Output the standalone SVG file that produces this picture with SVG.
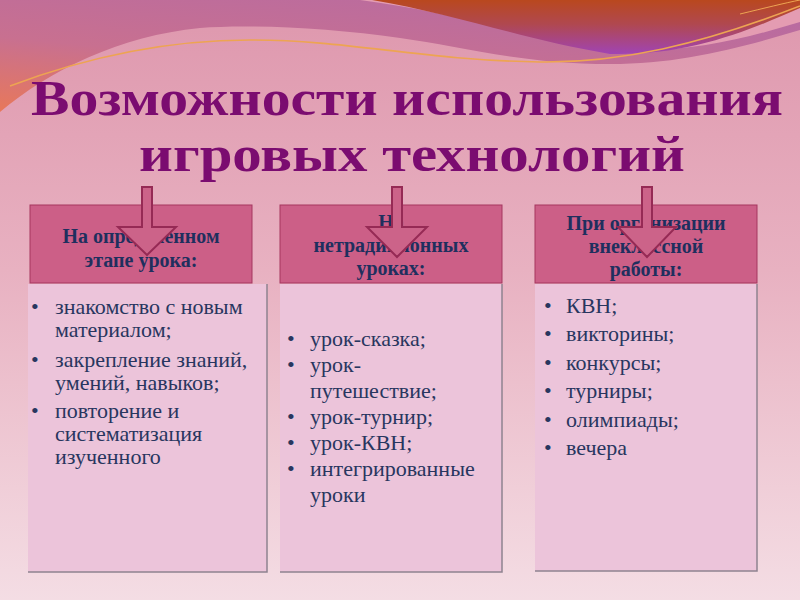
<svg xmlns="http://www.w3.org/2000/svg" width="800" height="600" viewBox="0 0 800 600">
<defs>
<linearGradient id="bg" x1="0" y1="0" x2="0" y2="1">
<stop offset="0" stop-color="#de97ad"/>
<stop offset="0.45" stop-color="#e8b1c1"/>
<stop offset="1" stop-color="#f4dde4"/>
</linearGradient>
<linearGradient id="mauve" x1="0.7" y1="0" x2="0" y2="1">
<stop offset="0" stop-color="#b96ba0"/>
<stop offset="0.55" stop-color="#c87090"/>
<stop offset="1" stop-color="#e8785a"/>
</linearGradient>
<linearGradient id="sunset" x1="0" y1="0" x2="0" y2="1">
<stop offset="0" stop-color="#b9481e"/>
<stop offset="0.45" stop-color="#b04850"/>
<stop offset="1" stop-color="#a044b4"/>
</linearGradient>
<style>
.title{font-family:"Liberation Serif",serif;font-weight:bold;font-size:50px;fill:#7b0c70}
.hdr{fill:#cc5f87;stroke:#a5375f;stroke-width:1}
.hdrtxt{font-family:"Liberation Serif",serif;font-weight:bold;font-size:20px;fill:#1f2f5e;text-anchor:middle}
.body{fill:#ecc4da;stroke:none}
.shadow{fill:none;stroke:#8f8290;stroke-width:1.5}
.item{font-family:"Liberation Serif",serif;font-size:22px;fill:#28365f}
.arrow{fill:#cc6389;stroke:#962a55;stroke-width:2;stroke-linejoin:miter}
</style>
</defs>

<g id="background">
<rect x="0" y="0" width="800" height="600" fill="url(#bg)"/>
<path d="M0,0 H800 V30 C740,48 680,64 610,64 C520,64 460,46 400,38 C330,28 250,24 200,28 C120,36 50,70 0,112 Z" fill="url(#mauve)"/>
<path d="M360,0 C440,10 510,32 600,48 C680,56 740,40 800,22 V0 Z" fill="#e49cb2"/>
<path d="M372,0 C455,14 525,40 610,54 C690,56 750,30 800,8 V0 Z" fill="url(#sunset)"/>
<path d="M10,86 C100,52 180,40 250,40 C350,40 420,60 540,62 C620,63 700,45 800,6" fill="none" stroke="#eda452" stroke-width="1.6"/>
<path d="M740,14 C765,8 785,3 800,0" fill="none" stroke="#eda452" stroke-width="1"/>
</g>

<g id="title">
<text class="title" x="407" y="115" text-anchor="middle" textLength="752" lengthAdjust="spacingAndGlyphs">Возможности использования</text>
<text class="title" x="412" y="171" text-anchor="middle" textLength="546" lengthAdjust="spacingAndGlyphs">игровых технологий</text>
</g>

<g id="node-lesson-stage">
<rect class="body" x="28" y="284" width="239" height="288"/>
<path class="shadow" d="M267,284 V572 H28"/>
<rect class="hdr" x="30" y="205" width="222" height="78"/>
<text class="hdrtxt" x="141" y="243">На определенном</text>
<text class="hdrtxt" x="141" y="267">этапе урока:</text>
<g class="item">
<text x="31" y="314">•</text><text x="55" y="314">знакомство с новым</text>
<text x="55" y="337">материалом;</text>
<text x="31" y="367">•</text><text x="55" y="367">закрепление знаний,</text>
<text x="55" y="390">умений, навыков;</text>
<text x="31" y="418">•</text><text x="55" y="418">повторение и</text>
<text x="55" y="441">систематизация</text>
<text x="55" y="464">изученного</text>
</g>
</g>

<g id="node-nontraditional">
<rect class="body" x="280" y="284" width="222" height="288"/>
<path class="shadow" d="M502,284 V572 H280"/>
<rect class="hdr" x="280" y="205" width="222" height="78"/>
<text class="hdrtxt" x="391" y="229">На</text>
<text class="hdrtxt" x="391" y="252">нетрадиционных</text>
<text class="hdrtxt" x="391" y="275">уроках:</text>
<g class="item">
<text x="287" y="346">•</text><text x="310" y="346">урок-сказка;</text>
<text x="287" y="372">•</text><text x="310" y="372">урок-</text>
<text x="310" y="398">путешествие;</text>
<text x="287" y="424">•</text><text x="310" y="424">урок-турнир;</text>
<text x="287" y="450">•</text><text x="310" y="450">урок-КВН;</text>
<text x="287" y="476">•</text><text x="310" y="476">интегрированные</text>
<text x="310" y="502">уроки</text>
</g>
</g>

<g id="node-extracurricular">
<rect class="body" x="535" y="284" width="222" height="287"/>
<path class="shadow" d="M757,284 V571 H535"/>
<rect class="hdr" x="535" y="205" width="222" height="78"/>
<text class="hdrtxt" x="646" y="230">При организации</text>
<text class="hdrtxt" x="646" y="253">внеклассной</text>
<text class="hdrtxt" x="646" y="276">работы:</text>
<g class="item">
<text x="544" y="313">•</text><text x="566" y="313">КВН;</text>
<text x="544" y="341">•</text><text x="566" y="341">викторины;</text>
<text x="544" y="370">•</text><text x="566" y="370">конкурсы;</text>
<text x="544" y="398">•</text><text x="566" y="398">турниры;</text>
<text x="544" y="427">•</text><text x="566" y="427">олимпиады;</text>
<text x="544" y="455">•</text><text x="566" y="455">вечера</text>
</g>
</g>

<g id="connectors">
<path class="arrow" d="M142,187 H152 V227 H176 L147,255 L118,227 H142 Z"/>
<path class="arrow" d="M392,187 H402 V227 H427 L397,257 L367,227 H392 Z"/>
<path class="arrow" d="M642,187 H652 V227 H676 L647,257 L618,227 H642 Z"/>
</g>
</svg>
